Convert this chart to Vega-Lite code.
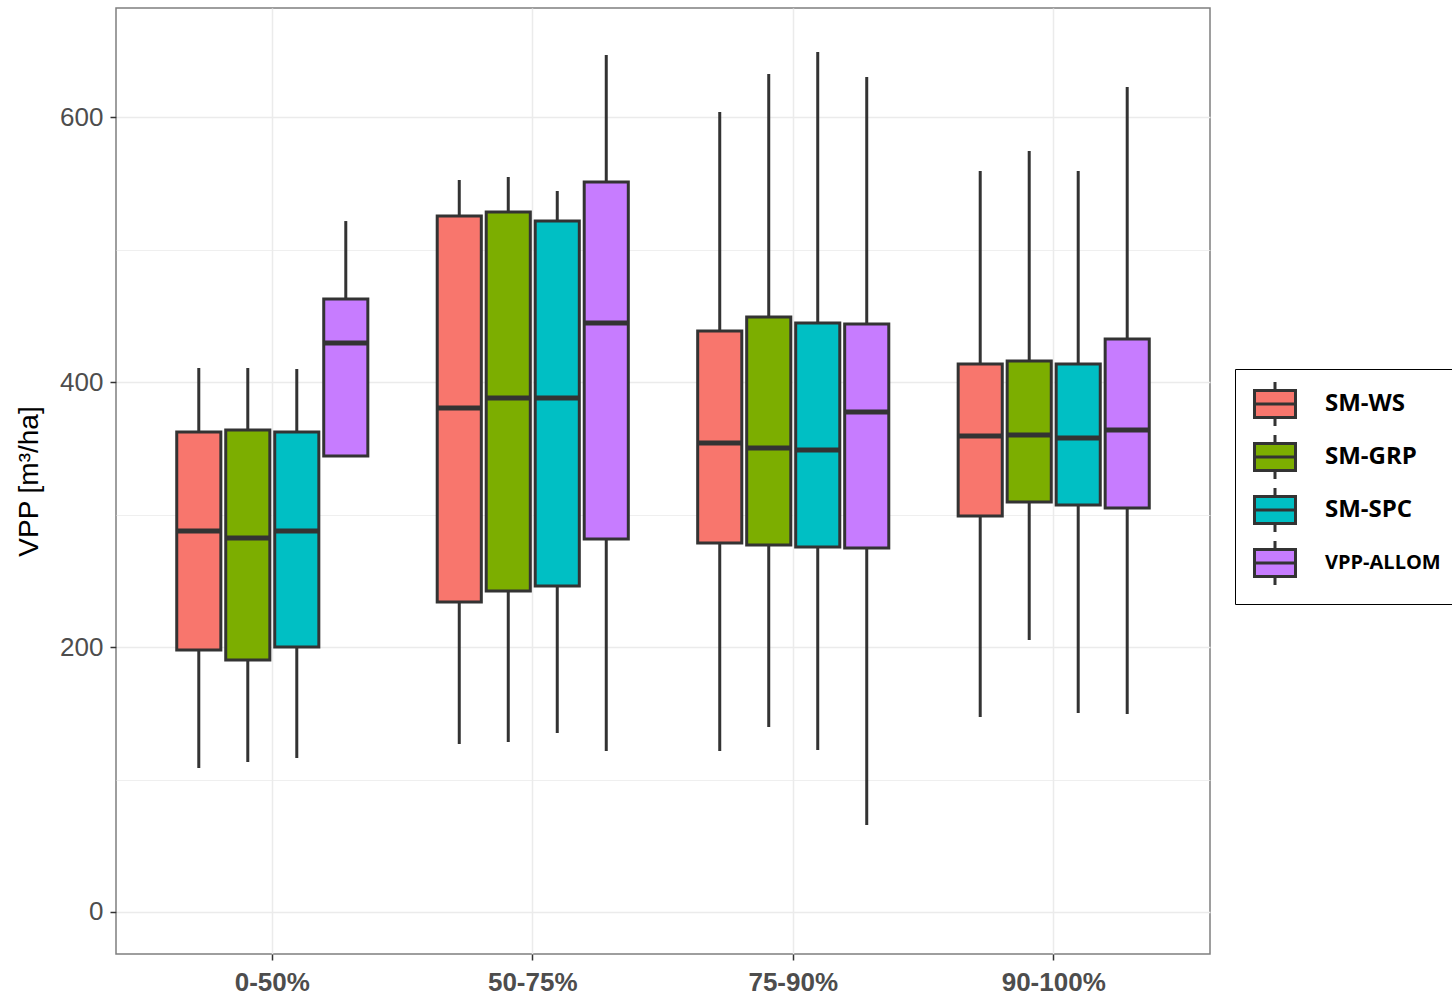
{
  "$schema": "https://vega.github.io/schema/vega-lite/v6.json",
  "autosize": "none",
  "width": 1094,
  "height": 946,
  "padding": {"left": 116, "top": 8, "right": 242, "bottom": 43},
  "background": "white",
  "config": {
    "view": {"stroke": "#7F7F7F", "strokeWidth": 1.5},
    "axis": {"domain": false}
  },
  "data": {
    "values": [
      {"group": "0-50%", "series": "SM-WS", "lo": 108.7, "q1": 197.7, "med": 287.5, "q3": 362.3, "hi": 410.6},
      {"group": "0-50%", "series": "SM-GRP", "lo": 113.2, "q1": 190.2, "med": 282.3, "q3": 363.8, "hi": 410.6},
      {"group": "0-50%", "series": "SM-SPC", "lo": 116.2, "q1": 200.0, "med": 287.5, "q3": 362.3, "hi": 409.8},
      {"group": "0-50%", "series": "VPP-ALLOM", "lo": 344.2, "q1": 344.2, "med": 429.4, "q3": 462.6, "hi": 521.5},
      {"group": "50-75%", "series": "SM-WS", "lo": 126.8, "q1": 234.0, "med": 380.4, "q3": 525.3, "hi": 552.5},
      {"group": "50-75%", "series": "SM-GRP", "lo": 128.3, "q1": 242.3, "med": 387.9, "q3": 528.3, "hi": 554.7},
      {"group": "50-75%", "series": "SM-SPC", "lo": 135.1, "q1": 246.0, "med": 387.9, "q3": 521.5, "hi": 544.2},
      {"group": "50-75%", "series": "VPP-ALLOM", "lo": 121.5, "q1": 281.5, "med": 444.5, "q3": 550.9, "hi": 646.8},
      {"group": "75-90%", "series": "SM-WS", "lo": 121.5, "q1": 278.5, "med": 354.0, "q3": 438.5, "hi": 603.8},
      {"group": "75-90%", "series": "SM-GRP", "lo": 139.6, "q1": 277.0, "med": 350.2, "q3": 449.1, "hi": 632.5},
      {"group": "75-90%", "series": "SM-SPC", "lo": 122.3, "q1": 275.5, "med": 348.7, "q3": 444.5, "hi": 649.0},
      {"group": "75-90%", "series": "VPP-ALLOM", "lo": 65.7, "q1": 274.7, "med": 377.4, "q3": 443.8, "hi": 630.2},
      {"group": "90-100%", "series": "SM-WS", "lo": 147.2, "q1": 298.9, "med": 359.2, "q3": 413.6, "hi": 559.2},
      {"group": "90-100%", "series": "SM-GRP", "lo": 205.3, "q1": 309.4, "med": 360.0, "q3": 415.8, "hi": 574.3},
      {"group": "90-100%", "series": "SM-SPC", "lo": 150.2, "q1": 307.2, "med": 357.7, "q3": 413.6, "hi": 559.2},
      {"group": "90-100%", "series": "VPP-ALLOM", "lo": 149.4, "q1": 304.9, "med": 363.8, "q3": 432.5, "hi": 622.6}
    ]
  },
  "encoding": {
    "x": {
      "field": "group",
      "type": "nominal",
      "sort": ["0-50%", "50-75%", "75-90%", "90-100%"],
      "scale": {"paddingInner": 0, "paddingOuter": 0.1},
      "axis": {
        "title": null,
        "labelAngle": 0,
        "bandPosition": 0.5,
        "grid": true,
        "gridColor": "#EBEBEB",
        "gridWidth": 1.5,
        "tickColor": "#333333",
        "tickWidth": 1.5,
        "tickSize": 6,
        "labelPadding": 9,
        "labelFont": "Liberation Sans",
        "labelFontSize": 26,
        "labelFontWeight": "bold",
        "labelColor": "#4D4D4D"
      }
    },
    "xOffset": {
      "field": "series",
      "type": "nominal",
      "sort": ["SM-WS", "SM-GRP", "SM-SPC", "VPP-ALLOM"],
      "scale": {"paddingInner": 0.1, "paddingOuter": 0.708}
    },
    "y": {
      "type": "quantitative",
      "scale": {"domain": [-31.7, 682.3], "nice": false, "zero": false},
      "axis": {
        "title": "VPP [m³/ha]",
        "titleFont": "Liberation Sans",
        "titleFontSize": 28,
        "titleFontWeight": "normal",
        "titleColor": "#000000",
        "titlePadding": 16,
        "values": [0, 100, 200, 300, 400, 500, 600],
        "labelExpr": "datum.value % 200 === 0 ? datum.label : ''",
        "grid": true,
        "gridColor": "#EBEBEB",
        "gridWidth": {"condition": {"test": "datum.value % 200 === 0", "value": 1.6}, "value": 0.8},
        "tickOpacity": {"condition": {"test": "datum.value % 200 === 0", "value": 1}, "value": 0},
        "tickColor": "#333333",
        "tickWidth": 1.5,
        "tickSize": 6,
        "labelPadding": 7,
        "labelFont": "Liberation Sans",
        "labelFontSize": 26,
        "labelColor": "#4D4D4D"
      }
    }
  },
  "layer": [
    {
      "mark": {"type": "rule", "color": "#333333", "strokeWidth": 3},
      "encoding": {
        "y": {"field": "lo", "type": "quantitative"},
        "y2": {"field": "hi"}
      }
    },
    {
      "mark": {"type": "bar", "stroke": "#333333", "strokeWidth": 3, "opacity": 1},
      "encoding": {
        "y": {"field": "q1", "type": "quantitative"},
        "y2": {"field": "q3"},
        "color": {
          "field": "series",
          "type": "nominal",
          "sort": ["SM-WS", "SM-GRP", "SM-SPC", "VPP-ALLOM"],
          "scale": {
            "domain": ["SM-WS", "SM-GRP", "SM-SPC", "VPP-ALLOM"],
            "range": ["#F8766D", "#7CAE00", "#00BFC4", "#C77CFF"]
          },
          "legend": {
            "title": null,
            "orient": "none",
            "legendX": 1119,
            "legendY": 361,
            "padding": 13,
            "strokeColor": "#000000",
            "fillColor": "#FFFFFF",
            "symbolType": "M-1,-0.66H1V0.66H-1Z M-1,0H1 M0,-0.66V-1.07 M0,0.66V1.07",
            "symbolSize": 1681,
            "symbolStrokeColor": "#333333",
            "symbolStrokeWidth": 3,
            "symbolOpacity": 1,
            "symbolOffset": 5,
            "rowPadding": -3,
            "labelOffset": 28,
            "labelFont": "Open Sans",
            "labelFontSize": 24,
            "labelFontWeight": "bold",
            "labelColor": "#000000",
            "labelLimit": 300,
            "encode": {
              "labels": {
                "update": {
                  "fontSize": {"signal": "datum.value === 'VPP-ALLOM' ? 20 : 24"}
                }
              }
            }
          }
        }
      }
    },
    {
      "mark": {"type": "tick", "color": "#333333", "thickness": 5, "size": 44, "opacity": 1},
      "encoding": {
        "y": {"field": "med", "type": "quantitative"}
      }
    }
  ]
}
